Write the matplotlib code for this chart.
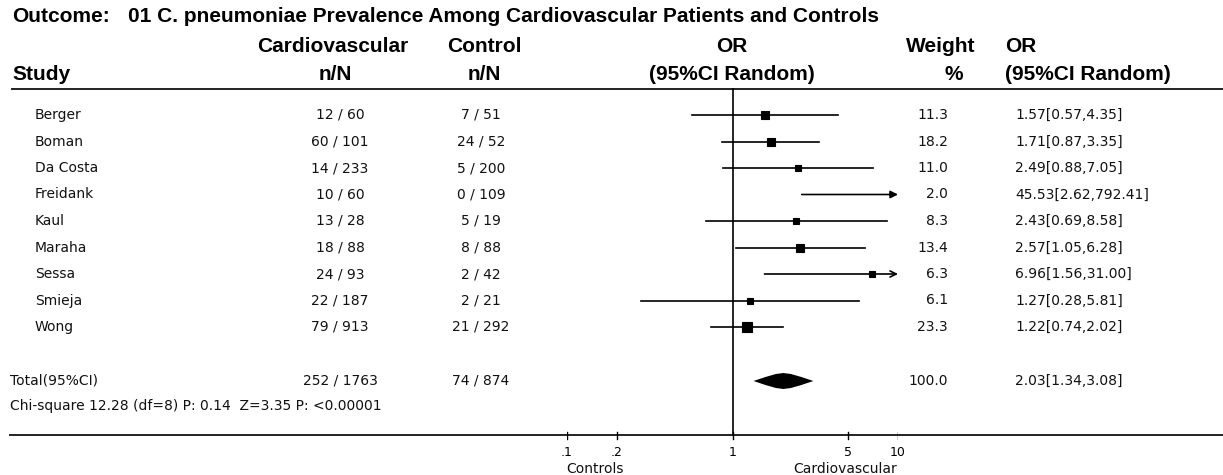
import numpy as np
import matplotlib
matplotlib.use("Agg")
from matplotlib import pyplot as plt

# study data
studies = ["Berger", "Boman", "Da Costa", "Freidank", "Kaul", "Maraha", "Sessa", "Smieja", "Wong"]
cardio_n = [12, 60, 14, 10, 13, 18, 24, 22, 79]
cardio_N = [60, 101, 233, 60, 28, 88, 93, 187, 913]
control_n = [7, 24, 5, 0, 5, 8, 2, 2, 21]
control_N = [51, 52, 200, 109, 19, 88, 42, 21, 292]
weight = [11.3, 18.2, 11.0, 2.0, 8.3, 13.4, 6.3, 6.1, 23.3]
odds = [1.57, 1.71, 2.49, 45.53, 2.43, 2.57, 6.96, 1.27, 1.22]
ci_low = [0.57, 0.87, 0.88, 2.62, 0.69, 1.05, 1.56, 0.28, 0.74]
ci_high = [4.35, 3.35, 7.05, 792.41, 8.58, 6.28, 31.00, 5.81, 2.02]

total_cardio = (252, 1763)
total_control = (74, 874)
total_weight = 100.0
total_or = 2.03
total_low = 1.34
total_high = 3.08
hetero = "Chi-square 12.28 (df=8) P: 0.14  Z=3.35 P: <0.00001"

ticks = [0.1, 0.2, 1, 5, 10]
tick_labels = [".1", ".2", "1", "5", "10"]

W, H = 1223, 475
HEAD = ["Liberation Sans", "DejaVu Sans"]
BODY = ["DejaVu Sans"]

fig = plt.figure(figsize=(W / 100, H / 100), dpi=100)
ax = fig.add_axes([0, 0, 1, 1])
ax.set_xlim(0, W)
ax.set_ylim(H, 0)
ax.axis("off")

# forest panel: log axis, 0.1 at x=567px and 10 at x=898px
x_lo, x_hi = 567, 898
fa = fig.add_axes([x_lo / W, 0, (x_hi - x_lo) / W, 1])
fa.set_xscale("log")
fa.set_xlim(0.1, 10)
fa.set_ylim(H, 0)
fa.axis("off")
fa.patch.set_alpha(0)

def head(x, y, s, ha="left"):
    ax.text(x, y, s, ha=ha, va="center", fontsize=15, fontweight="bold", family=HEAD)

def body(x, y, s, ha="left", size=10):
    ax.text(x, y, s, ha=ha, va="center", fontsize=size, family=BODY, color="#111111")

# headers
head(12, 17, "Outcome:")
head(128, 17, "01 C. pneumoniae Prevalence Among Cardiovascular Patients and Controls")
head(333, 46, "Cardiovascular", "center")
head(335, 75, "n/N", "center")
head(484, 46, "Control", "center")
head(484, 75, "n/N", "center")
head(732, 46, "OR", "center")
head(732, 75, "(95%CI Random)", "center")
head(941, 46, "Weight", "center")
head(954, 75, "%", "center")
head(1005, 46, "OR")
head(1005, 75, "(95%CI Random)")
head(12, 75, "Study")

ax.plot([12, W], [89, 89], color="#222222", lw=1.4)
ax.plot([10, W], [435, 435], color="#222222", lw=1.4)

row_y = 115 + 26.5 * np.arange(len(studies))
for i, name in enumerate(studies):
    y = row_y[i]
    body(35, y, name)
    body(340, y, f"{cardio_n[i]} / {cardio_N[i]}", "center")
    body(481, y, f"{control_n[i]} / {control_N[i]}", "center")
    body(948, y, f"{weight[i]:.1f}", "right")
    body(1015, y, f"{odds[i]:.2f}[{ci_low[i]:.2f},{ci_high[i]:.2f}]")

    lo = max(ci_low[i], 0.1)
    hi = min(ci_high[i], 10)
    if ci_high[i] > 10:
        # filled head when the point itself is off scale
        style = "-|>" if odds[i] > 10 else "->"
        fa.annotate("", xy=(hi, y), xytext=(lo, y),
                    arrowprops=dict(arrowstyle=style, color="black", lw=1.2,
                                    mutation_scale=11, shrinkA=0, shrinkB=0))
    else:
        fa.plot([lo, hi], [y, y], color="black", lw=1.2)
    if odds[i] <= 10:
        fa.plot(odds[i], y, marker="s", ms=1.5 * np.sqrt(weight[i]),
                mfc="black", mec="black", mew=0.8)

# total
ty = 381
body(10, ty, "Total(95%CI)")
body(340, ty, f"{total_cardio[0]} / {total_cardio[1]}", "center")
body(481, ty, f"{total_control[0]} / {total_control[1]}", "center")
body(948, ty, f"{total_weight:.1f}", "right")
body(1015, ty, f"{total_or:.2f}[{total_low:.2f},{total_high:.2f}]")
body(10, 406, hetero)

# pooled estimate: fat diamond
lg_lo, lg_c, lg_hi = np.log10([total_low, total_or, total_high])
fr = [0, 0.4, 0.75]
dx = [lg_lo + f * (lg_c - lg_lo) for f in fr] + [lg_c] + \
     [lg_hi - f * (lg_hi - lg_c) for f in fr[::-1]]
dy = [0, 4, 7, 8, 7, 4, 0]
px = 10 ** np.array(dx + dx[::-1])
py = np.array([ty - d for d in dy] + [ty + d for d in dy[::-1]])
fa.fill(px, py, color="black", lw=0)

# vertical line of no effect and axis ticks
fa.plot([1, 1], [89, 435], color="black", lw=1.2)
for t, lab in zip(ticks, tick_labels):
    fa.plot([t, t], [432, 439], color="black", lw=1)
    fa.text(t, 452, lab, ha="center", va="center", fontsize=9, family=BODY)
body(595, 469, "Controls", "center")
body(845, 469, "Cardiovascular", "center")

fig.savefig("out.png", dpi=100)
